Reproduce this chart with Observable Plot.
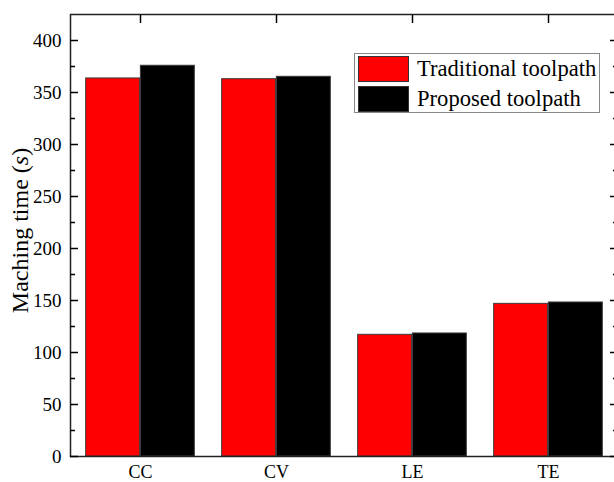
<!DOCTYPE html>
<html><head><meta charset="utf-8">
<script src="https://cdn.jsdelivr.net/npm/d3@7"></script>
<script src="https://cdn.jsdelivr.net/npm/@observablehq/plot@0.6"></script>
<style>
html,body{margin:0;padding:0;background:#fff;overflow:hidden;}
#wrap{position:relative;width:614px;height:482px;overflow:hidden;}
#wrap > svg{display:block;max-width:none !important;}
#legend{position:absolute;left:354px;top:53px;width:246px;height:60px;box-sizing:border-box;border:1px solid #888;background:#fff;padding:2px 0 0 3px;font-family:'Liberation Serif','Times New Roman',serif;font-size:22.6px;color:#000;}
#legend .item{display:flex;align-items:center;height:26px;margin-bottom:4px;white-space:nowrap;}
#legend .sw{width:51px;height:26px;box-sizing:border-box;border:1px solid #333;margin-right:8px;flex-shrink:0;}
</style></head><body><div id="wrap"><div id="legend"></div></div>
<script>
const categories = ["CC", "CV", "LE", "TE"];
const series = ["Traditional toolpath", "Proposed toolpath"];
const traditional = [363.5, 362.8, 117.0, 146.8];
const proposed = [375.7, 365.1, 118.3, 148.1];
const colors = ["#ff0000", "#000000"];
const yTicks = [0, 50, 100, 150, 200, 250, 300, 350, 400];
const yMinor = [25, 75, 125, 175, 225, 275, 325, 375];
const yLabel = "Maching time (s)";

const rows = categories.flatMap((c, i) => [
  {category: c, series: series[0], value: traditional[i]},
  {category: c, series: series[1], value: proposed[i]}
]);

const W = 621, H = 482, ML = 70, MR = 4, MT = 14, MB = 26;
const step = (W - ML - MR) / categories.length;
const font = "'Liberation Serif','Times New Roman',serif";

const plot = Plot.plot({
  width: W, height: H,
  marginLeft: ML, marginRight: MR, marginTop: MT, marginBottom: MB,
  style: {fontFamily: font, fontSize: "19px", color: "#000", background: "#fff", overflow: "visible", maxWidth: "none"},
  x: {domain: categories, padding: 0},
  y: {domain: [0, 425]},
  color: {domain: series, range: colors},
  marks: [
    Plot.barY(rows.filter(d => d.series === series[0]), {x: "category", y: "value", fill: "series", stroke: "#3a3a3a", strokeWidth: 1, insetLeft: step * 0.1, insetRight: step * 0.5}),
    Plot.barY(rows.filter(d => d.series === series[1]), {x: "category", y: "value", fill: "series", stroke: "#3a3a3a", strokeWidth: 1, insetLeft: step * 0.5, insetRight: step * 0.1}),
    Plot.frame({stroke: "#222", strokeWidth: 1.5}),
    Plot.axisY(yTicks, {anchor: "left", tickSize: 8, dx: 8, tickPadding: 9, label: null, strokeWidth: 1.5}),
    Plot.axisY(yMinor, {anchor: "left", tickSize: 5, dx: 5, fill: "none", label: null, strokeWidth: 1.5}),
    Plot.axisY(yTicks, {anchor: "right", tickSize: 8, dx: -8, fill: "none", label: null, strokeWidth: 1.5}),
    Plot.axisY(yMinor, {anchor: "right", tickSize: 5, dx: -5, fill: "none", label: null, strokeWidth: 1.5}),
    Plot.axisX({anchor: "top", tickSize: 8, dy: 8, fill: "none", label: null, strokeWidth: 1.5}),
    Plot.axisX({anchor: "bottom", tickSize: 0, tickPadding: 9, fontSize: 18, label: null}),
    Plot.text([yLabel], {frameAnchor: "left", textAnchor: "middle", rotate: -90, dx: -50, dy: -5, fontSize: 24})
  ]
});

document.getElementById("wrap").insertBefore(plot, document.getElementById("legend"));

// italic "s" in the y label
plot.querySelectorAll("text").forEach(t => {
  if (t.textContent === yLabel) {
    const i = yLabel.lastIndexOf("(") + 1;
    t.textContent = "";
    const ns = "http://www.w3.org/2000/svg";
    const a = document.createElementNS(ns, "tspan"); a.textContent = yLabel.slice(0, i);
    const b = document.createElementNS(ns, "tspan"); b.textContent = yLabel.slice(i, i + 1); b.setAttribute("font-style", "italic");
    const c = document.createElementNS(ns, "tspan"); c.textContent = yLabel.slice(i + 1);
    t.append(a, b, c);
  }
});

// legend built from the plot's own color scale
const colorScale = plot.scale("color");
const legend = document.getElementById("legend");
colorScale.domain.forEach((name, k) => {
  const item = document.createElement("div"); item.className = "item";
  const sw = document.createElement("div"); sw.className = "sw"; sw.style.background = colorScale.range[k];
  const label = document.createElement("span"); label.textContent = name;
  item.append(sw, label);
  legend.appendChild(item);
});
</script></body></html>
